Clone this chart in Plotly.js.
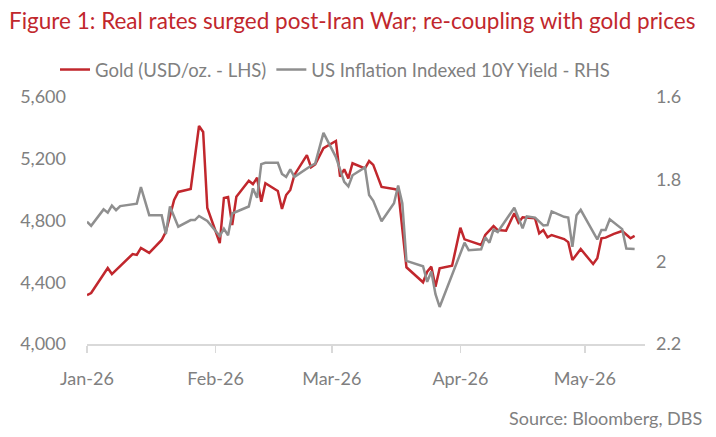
<!DOCTYPE html>
<html>
<head>
<meta charset="utf-8">
<script src="https://cdn.plot.ly/plotly-3.0.1.min.js"></script>
<style>
html,body{margin:0;padding:0;background:#fff;}
#chart{width:716px;height:437px;}
</style>
</head>
<body>
<div id="chart"></div>
<script>
// Gold (USD/oz.) - left axis
const goldDates = [
  '2026-01-01','2026-01-02','2026-01-06','2026-01-07','2026-01-12','2026-01-13','2026-01-14','2026-01-16',
  '2026-01-19','2026-01-20','2026-01-22','2026-01-23','2026-01-26','2026-01-28','2026-01-29','2026-01-30',
  '2026-02-02','2026-02-03','2026-02-04','2026-02-05','2026-02-06','2026-02-08','2026-02-09','2026-02-10',
  '2026-02-11','2026-02-12','2026-02-13','2026-02-16','2026-02-17','2026-02-18','2026-02-19','2026-02-20',
  '2026-02-23','2026-02-24','2026-02-25','2026-02-27','2026-03-02','2026-03-03','2026-03-04','2026-03-05',
  '2026-03-06','2026-03-09','2026-03-10','2026-03-11','2026-03-13','2026-03-16','2026-03-17','2026-03-19',
  '2026-03-23','2026-03-24','2026-03-25','2026-03-26','2026-03-27','2026-03-30','2026-04-01','2026-04-02',
  '2026-04-06','2026-04-07','2026-04-09','2026-04-10','2026-04-12','2026-04-14','2026-04-15','2026-04-16',
  '2026-04-19','2026-04-20','2026-04-21','2026-04-22','2026-04-23','2026-04-26','2026-04-27','2026-04-28',
  '2026-04-30','2026-05-03','2026-05-04','2026-05-05','2026-05-06','2026-05-08','2026-05-10','2026-05-12',
  '2026-05-13'
];
const goldValues = [
  4317,4330,4492,4453,4583,4577,4622,4590,
  4674,4726,4933,4985,5004,5412,5373,4881,
  4654,4946,4952,4771,4954,5027,5058,5036,
  5077,4922,5041,4991,4875,4965,4998,5095,
  5224,5145,5164,5268,5315,5084,5132,5073,
  5171,5138,5185,5160,5017,5004,4998,4497,
  4400,4468,4501,4371,4490,4507,4753,4678,
  4641,4706,4764,4738,4734,4847,4786,4821,
  4814,4717,4738,4691,4706,4680,4660,4544,
  4615,4518,4555,4685,4689,4713,4732,4685,
  4700
];

// US Inflation Indexed 10Y Yield (%) - right axis (inverted)
const yieldDates = [
  '2026-01-01','2026-01-02','2026-01-05','2026-01-06','2026-01-07','2026-01-08','2026-01-09','2026-01-13',
  '2026-01-14','2026-01-16','2026-01-19','2026-01-20','2026-01-21','2026-01-23','2026-01-26','2026-01-27',
  '2026-01-28','2026-01-30','2026-02-02','2026-02-03','2026-02-04','2026-02-05','2026-02-09','2026-02-10',
  '2026-02-11','2026-02-12','2026-02-13','2026-02-16','2026-02-17','2026-02-18','2026-02-19','2026-02-20',
  '2026-02-24','2026-02-25','2026-02-27','2026-03-02','2026-03-04','2026-03-05','2026-03-06','2026-03-09',
  '2026-03-10','2026-03-11','2026-03-13','2026-03-16','2026-03-17','2026-03-18','2026-03-19','2026-03-23',
  '2026-03-24','2026-03-25','2026-03-26','2026-03-27','2026-04-02','2026-04-03','2026-04-06','2026-04-07',
  '2026-04-08','2026-04-09','2026-04-10','2026-04-12','2026-04-14','2026-04-16','2026-04-17','2026-04-19',
  '2026-04-21','2026-04-22','2026-04-23','2026-04-26','2026-04-27','2026-04-28','2026-04-29','2026-04-30',
  '2026-05-04','2026-05-05','2026-05-06','2026-05-07','2026-05-10','2026-05-11','2026-05-13'
];
const yieldValues = [
  1.903,1.913,1.873,1.881,1.864,1.875,1.865,1.859,
  1.819,1.887,1.887,1.933,1.866,1.915,1.899,1.899,
  1.889,1.901,1.938,1.920,1.936,1.883,1.866,1.822,
  1.845,1.763,1.760,1.760,1.787,1.794,1.776,1.794,
  1.767,1.762,1.687,1.746,1.806,1.817,1.790,1.771,
  1.838,1.852,1.902,1.858,1.815,1.858,1.998,2.011,
  2.049,2.024,2.079,2.110,1.954,1.972,1.970,1.941,
  1.954,1.922,1.928,1.900,1.869,1.919,1.890,1.893,
  1.912,1.911,1.878,1.891,1.893,1.964,1.887,1.874,
  1.946,1.923,1.923,1.897,1.921,1.968,1.969
];

const seriesNames = ['Gold (USD/oz. - LHS)', 'US Inflation Indexed 10Y Yield - RHS'];
const xTickDates = ['2026-01-01','2026-02-01','2026-03-01','2026-04-01','2026-05-01'];
const xTickLabels = ['Jan-26','Feb-26','Mar-26','Apr-26','May-26'];
const leftTicks = [4000,4400,4800,5200,5600];
const leftTickLabels = ['4,000','4,400','4,800','5,200','5,600'];
const rightTicks = [1.6,1.8,2.0,2.2];
const rightTickLabels = ['1.6','1.8','2','2.2'];

const FONT = 'Lato, "Open Sans", sans-serif';
const RED = '#c1272d';
const GREY = '#8f8f8f';
const TXT = '#808080';

const traces = [
  {x: goldDates, y: goldValues, name: seriesNames[0], type: 'scatter', mode: 'lines',
   line: {color: RED, width: 2.5}, yaxis: 'y'},
  {x: yieldDates, y: yieldValues, name: seriesNames[1], type: 'scatter', mode: 'lines',
   line: {color: GREY, width: 2.5}, yaxis: 'y2'}
];

const layout = {
  width: 716, height: 437,
  paper_bgcolor: '#fff', plot_bgcolor: '#fff',
  margin: {l: 87, r: 71, t: 97, b: 93},
  font: {family: FONT, color: TXT, size: 18},
  title: {text: 'Figure 1: Real rates surged post-Iran War; re-coupling with gold prices',
          font: {family: FONT, color: RED, size: 22.5},
          x: 9/716, xref: 'container', xanchor: 'left',
          y: 1 - 21/437, yref: 'container', yanchor: 'middle'},
  showlegend: true,
  legend: {orientation: 'h', xref: 'container', yref: 'container',
           x: 55/716, xanchor: 'left', y: 1 - 70/437, yanchor: 'middle',
           font: {family: FONT, color: TXT, size: 18.5},
           itemwidth: 30, tracegroupgap: 0, bgcolor: 'rgba(0,0,0,0)'},
  xaxis: {type: 'date', range: ['2026-01-01', '2026-05-15 12:00'],
          tickvals: xTickDates, ticktext: xTickLabels,
          showgrid: false, zeroline: false,
          showline: true, linecolor: '#d9d9d9', linewidth: 2,
          ticks: 'outside', ticklen: 7, tickwidth: 1.5, tickcolor: '#d9d9d9',
          ticklabelstandoff: 10,
          tickfont: {family: FONT, color: TXT, size: 18}},
  yaxis: {range: [4000, 5600], tickvals: leftTicks, ticktext: leftTickLabels,
          showgrid: false, zeroline: false, showline: false, ticks: '',
          ticklabelstandoff: 20,
          tickfont: {family: FONT, color: TXT, size: 18}},
  yaxis2: {range: [2.2, 1.6], tickvals: rightTicks, ticktext: rightTickLabels,
           overlaying: 'y', side: 'right',
           showgrid: false, zeroline: false, showline: false, ticks: '',
           ticklabelstandoff: 10,
           tickfont: {family: FONT, color: TXT, size: 18}},
  annotations: [{text: 'Source: Bloomberg, DBS', xref: 'paper', yref: 'paper',
                 x: (704-87)/558, y: (344-418)/247, xanchor: 'right', yanchor: 'middle',
                 showarrow: false, font: {family: FONT, color: TXT, size: 18}}]
};

Plotly.newPlot('chart', traces, layout, {displayModeBar: false, staticPlot: true});
</script>
</body>
</html>
